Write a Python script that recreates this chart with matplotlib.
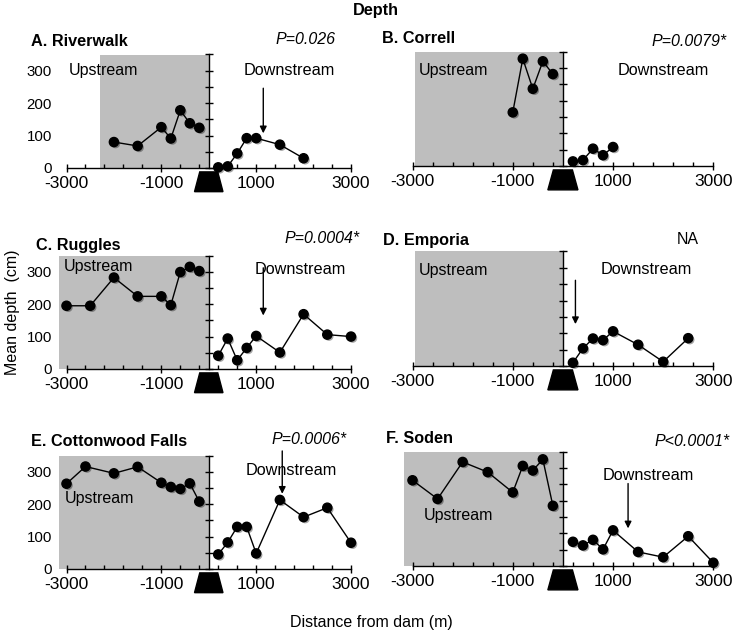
import numpy as np
import matplotlib
matplotlib.use("Agg")
import matplotlib.pyplot as plt
from matplotlib.patches import Rectangle, Polygon
import matplotlib.patheffects as pe

plt.rcParams['font.family'] = ['Liberation Sans', 'DejaVu Sans']

# ---------------- data ----------------
panel_titles = ["A. Riverwalk", "B. Correll", "C. Ruggles", "D. Emporia",
                "E. Cottonwood Falls", "F. Soden"]
p_texts = ["P=0.026", "P=0.0079*", "P=0.0004*", "NA", "P=0.0006*", "P<0.0001*"]

A_up_x = [-2000, -1500, -1000, -800, -600, -400, -200]
A_up_y = [80, 68, 126, 91, 178, 138, 124]
A_dn_x = [200, 400, 600, 800, 1000, 1500, 2000]
A_dn_y = [2, 5, 45, 92, 92, 72, 30]

B_up_x = [-1000, -800, -600, -400, -200]
B_up_y = [164, 328, 236, 320, 281]
B_dn_x = [200, 400, 600, 800, 1000]
B_dn_y = [14, 18, 53, 33, 58]

C_up_x = [-3000, -2500, -2000, -1500, -1000, -800, -600, -400, -200]
C_up_y = [195, 195, 282, 224, 224, 197, 299, 315, 302]
C_dn_x = [200, 400, 600, 800, 1000, 1500, 2000, 2500, 3000]
C_dn_y = [41, 94, 27, 65, 102, 51, 169, 106, 100]

D_up_x = []
D_up_y = []
D_dn_x = [200, 400, 600, 800, 1000, 1500, 2000, 2500]
D_dn_y = [10, 54, 84, 79, 106, 65, 13, 85]

E_up_x = [-3000, -2600, -2000, -1500, -1000, -800, -600, -400, -200]
E_up_y = [263, 316, 295, 315, 266, 253, 247, 264, 208]
E_dn_x = [200, 400, 600, 800, 1000, 1500, 2000, 2500, 3000]
E_dn_y = [45, 82, 130, 130, 48, 213, 160, 189, 81]

F_up_x = [-3000, -2500, -2000, -1500, -1000, -800, -600, -400, -200]
F_up_y = [262, 205, 318, 287, 225, 306, 292, 326, 184]
F_dn_x = [200, 400, 600, 800, 1000, 1500, 2000, 2500, 3000]
F_dn_y = [74, 63, 80, 51, 109, 43, 27, 91, 10]

up_x = [A_up_x, B_up_x, C_up_x, D_up_x, E_up_x, F_up_x]
up_y = [A_up_y, B_up_y, C_up_y, D_up_y, E_up_y, F_up_y]
dn_x = [A_dn_x, B_dn_x, C_dn_x, D_dn_x, E_dn_x, F_dn_x]
dn_y = [A_dn_y, B_dn_y, C_dn_y, D_dn_y, E_dn_y, F_dn_y]

# gray (upstream) region start, arrows (x, y_start, y_end)
gray_start = [-2300, -2950, -3150, -2950, -3160, -3160]
arrows = [(1150, 246, 107), None, (1150, 312, 165), (250, 262, 128),
          (1550, 364, 232), (1300, 252, 115)]
up_label = [(-2944, 302), (-2880, 292), (-3059, 317), (-2880, 292), (-3032, 216), (-2785, 155)]
dn_label = [(1700, 302), (1993, 292), (1927, 307), (1660, 294), (1740, 303), (1711, 277)]

x_major = [-3000, -1000, 1000, 3000]
x_minor = [-2600, -2200, -1800, -1400, -600, -200, 200, 600, 1400, 1800, 2200, 2600]
y_ticks = [0, 100, 200, 300]
y_center_ticks = [0, 50, 100, 150, 200, 250, 300, 350]

# ---------------- layout ----------------
W, H = 735, 636
fig = plt.figure(figsize=(W / 100, H / 100), dpi=100)

col_x = [(66.5, 351.0), (412.5, 713.3)]
row_bottom = [(168, 166), (369, 366), (569, 566)]
heights = (113.5, 114.5)

title_pos = [(31, 41.7), (381.7, 38.3), (36, 245), (383.3, 240), (30.7, 441.7), (386, 438.3)]
p_pos = [(335, 40, 'right'), (726.7, 41.7, 'right'), (360, 238.3, 'right'),
         (687.7, 240, 'center'), (346.7, 440, 'right'), (730, 441.7, 'right')]

GRAY = '#bebebe'

for i in range(6):
    r, c = divmod(i, 2)
    x0, x1 = col_x[c]
    b = row_bottom[r][c]
    h = heights[c]
    ax = fig.add_axes([x0 / W, 1 - b / H, (x1 - x0) / W, h / H])
    ax.set_xlim(-3000, 3000)
    ax.set_ylim(0, 350)
    ax.patch.set_alpha(0)
    for s in ['top', 'right', 'left']:
        ax.spines[s].set_visible(False)
    ax.spines['bottom'].set_linewidth(1.0)

    # gray upstream area
    ax.add_patch(Rectangle((gray_start[i], 0), 0 - gray_start[i], 350,
                           facecolor=GRAY, edgecolor='none', zorder=0, clip_on=False))

    # x ticks
    ax.set_xticks(x_major)
    ax.set_xticklabels([str(v) for v in x_major])
    ax.set_xticks(x_minor, minor=True)
    ax.tick_params(axis='x', which='major', direction='inout', length=6, width=1,
                   labelsize=12.5, pad=2.8)
    ax.tick_params(axis='x', which='minor', direction='in', length=2.8, width=1)

    # y tick labels at left (no tick marks)
    ax.set_yticks(y_ticks)
    if c == 0:
        ax.set_yticklabels([str(v) for v in y_ticks])
        ax.tick_params(axis='y', length=0, labelsize=10.8, pad=10.5)
    else:
        ax.tick_params(axis='y', length=0, labelleft=False)

    # centre axis at distance 0
    sec = ax.secondary_yaxis(0.5)
    sec.set_yticks(y_center_ticks)
    sec.set_yticklabels([])
    sec.tick_params(axis='y', direction='inout', length=5.5, width=1,
                    labelleft=False, labelright=False)
    for sp in sec.spines.values():
        sp.set_linewidth(1.0)

    # dam symbol
    ax.add_patch(Polygon([[-190, -12], [190, -12], [300, -73], [-300, -73]],
                         closed=True, facecolor='black', edgecolor='black',
                         clip_on=False, zorder=5))

    shadow = [pe.SimplePatchShadow(offset=(1.2, -1.2), shadow_rgbFace='black', alpha=0.35),
              pe.Normal()]
    for xs, ys in [(up_x[i], up_y[i]), (dn_x[i], dn_y[i])]:
        if len(xs) == 0:
            continue
        ax.plot(xs, ys, color='black', lw=1.0, zorder=3, clip_on=False)
        ax.plot(xs, ys, linestyle='none', marker='o', markersize=6.6,
                color='black', zorder=4, clip_on=False, path_effects=shadow)

    if arrows[i] is not None:
        ax_x, y0, y1 = arrows[i]
        ax.annotate('', xy=(ax_x, y1), xytext=(ax_x, y0),
                    arrowprops=dict(arrowstyle='-|>', color='black', lw=1.0,
                                    mutation_scale=10, shrinkA=0, shrinkB=0),
                    zorder=6, annotation_clip=False)

    ux, uy = up_label[i]
    ax.text(ux, uy, "Upstream", fontsize=11.5, ha='left', va='center', zorder=7)
    dx, dy = dn_label[i]
    ax.text(dx, dy, "Downstream", fontsize=11.7, ha='center', va='center', zorder=2)

    tx, ty = title_pos[i]
    fig.text(tx / W, 1 - ty / H, panel_titles[i], fontsize=11.7, fontweight='bold',
             ha='left', va='center')
    px, py, pha = p_pos[i]
    fig.text(px / W, 1 - py / H, p_texts[i], fontsize=11.5,
             fontstyle='normal' if p_texts[i] == 'NA' else 'italic',
             ha=pha, va='center')

fig.text(376 / W, 1 - 10 / H, "Depth", fontsize=11.7, fontweight='bold',
         ha='center', va='center')
fig.text(12 / W, 1 - 312 / H, "Mean depth  (cm)", fontsize=11.5, rotation=90,
         ha='center', va='center')
fig.text(371 / W, 1 - 622 / H, "Distance from dam (m)", fontsize=11.5,
         ha='center', va='center')

fig.savefig("out.png", dpi=100)
